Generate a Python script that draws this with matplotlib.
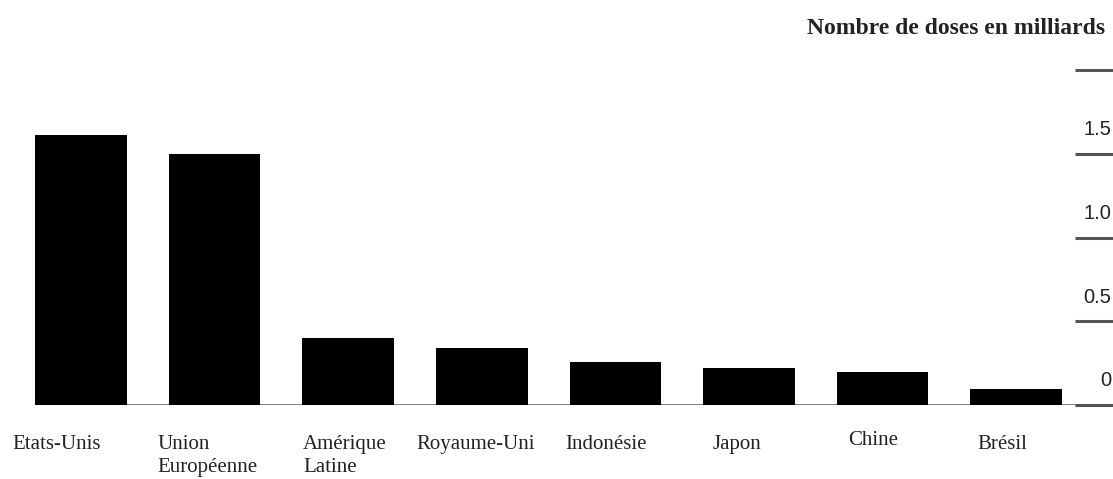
import numpy as np
import matplotlib
matplotlib.use("Agg")
from matplotlib import pyplot as plt
from matplotlib import transforms

# data (milliards de doses)
categories = ["Etats-Unis", "Union\nEuropéenne", "Amérique\nLatine", "Royaume-Uni",
              "Indonésie", "Japon", "Chine", "Brésil"]
doses = [1.61, 1.50, 0.40, 0.34, 0.255, 0.222, 0.20, 0.095]
yticks = [0, 0.5, 1.0, 1.5, 2.0]
ytick_labels = ["0", "0.5", "1.0", "1.5", ""]

W, H = 1113, 479
fig = plt.figure(figsize=(W / 100., H / 100.), dpi=100)

# axes spanning the full width, y=0 at 405 px from top, 167.5 px per unit
base_px = 405.
ppu = 167.5
ytop = 2.25
ax = fig.add_axes([0, (H - base_px) / H, 1, ytop * ppu / H])
ax.set_xlim(-81. / 133.6, (W - 81.) / 133.6)
ax.set_ylim(0, ytop)
ax.axis("off")

x = np.arange(len(categories))
ax.bar(x, doses, width=0.685, color="black", zorder=3)

# baseline
ax.plot([-0.345, ax.get_xlim()[1]], [0, 0], color="#555555", lw=1.8, zorder=2,
        solid_capstyle="butt")

# right-hand scale: short lines with labels above them
tr = transforms.blended_transform_factory(ax.transAxes, ax.transData)
for v, lab in zip(yticks, ytick_labels):
    ax.plot([1075. / W, 1.0], [v, v], color="#555555", lw=2.2, transform=tr,
            solid_capstyle="butt", clip_on=False)
    if lab:
        ax.text(1111. / W, v + 24. / ppu, lab, transform=tr, ha="right", va="center",
                fontsize=14.5, family="Liberation Sans", color="#222222")

# category labels below the baseline
label_px = [12, 157, 303, 416, 565, 713, 848, 977]
label_dy = [0, 0, 0, 0, 0, 0, -4, 0]
for lab, px, dy in zip(categories, label_px, label_dy):
    fig.text(px / W, 1 - (435 + dy) / H, lab, ha="left", va="top",
             fontsize=15, family="Liberation Serif", color="#222222",
             linespacing=1.3)

fig.text(1105. / W, 1 - 28. / H, "Nombre de doses en milliards", ha="right",
         va="center", fontsize=17, family="Liberation Serif", weight="bold",
         color="#222222")

fig.savefig("out.png", dpi=100)
